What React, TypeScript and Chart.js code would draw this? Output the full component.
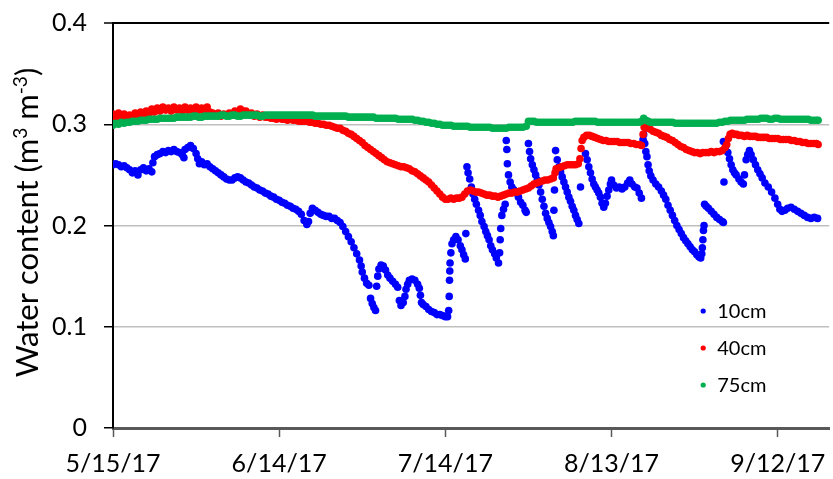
import React, { useEffect, useRef } from "react";
import { Chart, registerables } from "chart.js";

Chart.register(...registerables);

// x = days since 5/15/17, y = volumetric water content (m3 m-3)
const xTickDays = [0, 30, 60, 90, 120];
const xTickLabels = ["5/15/17", "6/14/17", "7/14/17", "8/13/17", "9/12/17"];
const yTickValues = [0, 0.1, 0.2, 0.3, 0.4];
const seriesNames = ["10cm", "40cm", "75cm"];
const seriesColors = ["#0000FF", "#FF0000", "#00B050"];

const series10cm: [number, number][] = [
  [0, 0.26], [0.5, 0.261], [1, 0.26], [1.5, 0.258], [2, 0.259], [2.5, 0.257], [3, 0.255], [3.5, 0.252],
  [4, 0.254], [4.5, 0.25], [5, 0.255], [5.5, 0.257], [6, 0.254], [6.5, 0.256], [7, 0.253], [7.2, 0.262],
  [7.5, 0.268], [8, 0.27], [8.5, 0.271], [9, 0.273], [9.5, 0.272], [10, 0.274], [10.5, 0.273], [11, 0.275],
  [11.5, 0.273], [12, 0.272], [12.5, 0.27], [12.8, 0.267], [13, 0.275], [13.5, 0.277], [14, 0.279], [14.5, 0.276],
  [15, 0.271], [15.3, 0.266], [15.6, 0.261], [16, 0.263], [16.5, 0.26], [17, 0.261], [17.5, 0.258], [18, 0.256],
  [18.5, 0.254], [19, 0.252], [19.5, 0.25], [20, 0.248], [20.5, 0.246], [21, 0.245], [21.5, 0.245], [22, 0.247],
  [22.5, 0.248], [23, 0.247], [23.5, 0.245], [24, 0.243], [24.5, 0.242], [25, 0.24], [25.5, 0.238], [26, 0.237],
  [26.5, 0.235], [27, 0.234], [27.5, 0.232], [28, 0.231], [28.5, 0.229], [29, 0.228], [29.5, 0.226], [30, 0.225],
  [30.5, 0.223], [31, 0.222], [31.5, 0.22], [32, 0.219], [32.5, 0.217], [33, 0.216], [33.5, 0.214], [34, 0.211],
  [34.5, 0.205], [35, 0.201], [35.3, 0.204], [35.6, 0.212], [36, 0.217], [36.5, 0.215], [37, 0.213], [37.5, 0.211],
  [38, 0.21], [38.5, 0.209], [39, 0.209], [39.5, 0.207], [40, 0.207], [40.5, 0.205], [41, 0.203], [41.5, 0.199],
  [42, 0.194], [42.5, 0.189], [43, 0.184], [43.5, 0.178], [44, 0.172], [44.5, 0.166], [44.8, 0.16], [45, 0.154],
  [45.4, 0.148], [45.8, 0.143], [46.2, 0.141], [46.5, 0.128], [46.8, 0.123], [47.1, 0.119], [47.4, 0.116],
  [47.6, 0.14], [47.8, 0.15], [48, 0.157], [48.4, 0.161], [48.8, 0.16], [49.2, 0.156], [49.6, 0.151], [50, 0.148],
  [50.5, 0.145], [51, 0.142], [51.4, 0.139], [51.7, 0.126], [52, 0.121], [52.4, 0.124], [52.7, 0.13], [52.9, 0.137],
  [53.2, 0.142], [53.5, 0.146], [54, 0.147], [54.5, 0.146], [55, 0.142], [55.3, 0.138], [55.5, 0.131], [55.7, 0.124],
  [56, 0.122], [56.5, 0.12], [57, 0.117], [57.5, 0.115], [58, 0.114], [58.5, 0.112], [59, 0.112], [59.5, 0.111],
  [60, 0.11], [60.4, 0.11], [60.6, 0.116], [60.7, 0.13], [60.75, 0.146], [60.8, 0.155], [60.85, 0.163], [61, 0.173],
  [61.2, 0.182], [61.5, 0.186], [61.9, 0.189], [62.3, 0.186], [62.7, 0.18], [63, 0.176], [63.3, 0.171], [63.6, 0.167],
  [63.7, 0.192], [63.9, 0.258], [64.1, 0.252], [64.4, 0.246], [64.7, 0.238], [65, 0.231], [65.3, 0.226], [65.6, 0.221],
  [66, 0.215], [66.3, 0.21], [66.6, 0.204], [67, 0.199], [67.3, 0.194], [67.6, 0.19], [67.9, 0.186], [68.2, 0.18],
  [68.5, 0.176], [68.9, 0.172], [69.2, 0.168], [69.6, 0.163], [69.8, 0.173], [69.9, 0.186], [70, 0.197], [70.2, 0.21],
  [70.5, 0.216], [70.8, 0.221], [71, 0.284], [71.1, 0.275], [71.2, 0.261], [71.4, 0.25], [71.7, 0.243], [72, 0.238],
  [72.4, 0.235], [72.8, 0.232], [73.2, 0.228], [73.6, 0.223], [74, 0.22], [74.4, 0.215], [74.6, 0.213],
  [75, 0.281], [75.2, 0.273], [75.4, 0.266], [75.7, 0.26], [76, 0.255], [76.3, 0.25], [76.6, 0.245], [76.9, 0.24],
  [77.2, 0.233], [77.5, 0.226], [77.8, 0.219], [78.1, 0.212], [78.4, 0.207], [78.7, 0.203], [79, 0.199], [79.3, 0.194],
  [79.5, 0.19], [79.6, 0.215], [79.7, 0.235], [79.9, 0.274], [80.2, 0.265], [80.5, 0.258], [80.8, 0.253], [81.1, 0.248],
  [81.4, 0.243], [81.7, 0.238], [82, 0.233], [82.3, 0.228], [82.6, 0.224], [82.9, 0.219], [83.2, 0.215], [83.5, 0.21],
  [83.8, 0.206], [84.1, 0.202], [84.4, 0.238], [85.3, 0.271], [85.6, 0.265], [85.9, 0.258], [86.2, 0.252], [86.5, 0.246],
  [86.8, 0.241], [87.1, 0.238], [87.4, 0.235], [87.7, 0.232], [88, 0.228], [88.3, 0.222], [88.6, 0.218], [88.9, 0.222],
  [89.2, 0.229], [89.5, 0.235], [89.8, 0.241], [90, 0.245], [90.4, 0.24], [90.9, 0.237], [91.4, 0.238], [91.9, 0.236],
  [92.4, 0.238], [92.9, 0.242], [93.3, 0.245], [93.7, 0.241], [94.2, 0.238], [94.6, 0.237], [95, 0.232], [95.4, 0.227],
  [95.7, 0.285], [95.8, 0.29], [96, 0.281], [96.2, 0.273], [96.4, 0.268], [96.6, 0.26], [96.8, 0.254], [97.1, 0.249],
  [97.5, 0.245], [98, 0.241], [98.5, 0.238], [99, 0.234], [99.4, 0.23], [99.8, 0.226], [100.2, 0.22], [100.6, 0.215],
  [101, 0.21], [101.4, 0.205], [101.8, 0.2], [102.2, 0.196], [102.6, 0.192], [103, 0.188], [103.4, 0.185], [103.8, 0.182],
  [104.2, 0.179], [104.6, 0.176], [105, 0.174], [105.4, 0.171], [105.8, 0.169], [106.1, 0.168], [106.3, 0.172],
  [106.4, 0.178], [106.5, 0.186], [106.6, 0.195], [106.7, 0.2], [106.8, 0.221], [107.1, 0.219], [107.5, 0.217],
  [108, 0.214], [108.5, 0.211], [109, 0.208], [109.5, 0.206], [110, 0.204], [110.2, 0.203], [110.3, 0.243],
  [110.2, 0.283], [110.6, 0.278], [111, 0.272], [111.3, 0.266], [111.6, 0.26], [111.9, 0.255], [112.2, 0.252],
  [112.5, 0.25], [113, 0.246], [113.4, 0.243], [113.8, 0.241], [114, 0.25], [114.3, 0.265], [114.6, 0.27], [114.9, 0.274],
  [115.2, 0.27], [115.6, 0.265], [116, 0.26], [116.4, 0.255], [116.8, 0.251], [117.2, 0.247], [117.7, 0.242],
  [118.3, 0.238], [118.9, 0.233], [119.5, 0.227], [120, 0.221], [120.4, 0.216], [120.8, 0.214], [121.3, 0.215],
  [121.8, 0.217], [122.4, 0.218], [123, 0.216], [123.6, 0.214], [124.2, 0.212], [124.8, 0.21], [125.4, 0.208],
  [126, 0.207], [126.6, 0.208], [127.2, 0.207],
];

const series40cm: [number, number][] = [
  [0, 0.31], [0.5, 0.307], [1, 0.311], [1.5, 0.308], [2, 0.31], [2.5, 0.306], [3, 0.309], [3.5, 0.307], [4, 0.311],
  [4.5, 0.308], [5, 0.312], [5.5, 0.309], [6, 0.313], [6.5, 0.31], [7, 0.315], [7.5, 0.312], [8, 0.316], [8.5, 0.313],
  [9, 0.317], [9.5, 0.314], [10, 0.316], [10.5, 0.313], [11, 0.317], [11.5, 0.314], [12, 0.316], [12.5, 0.313],
  [13, 0.317], [13.5, 0.314], [14, 0.316], [14.5, 0.313], [15, 0.317], [15.5, 0.314], [16, 0.316], [16.5, 0.313],
  [17, 0.317], [17.5, 0.312], [18, 0.311], [18.5, 0.309], [19, 0.311], [19.5, 0.308], [20, 0.31], [20.5, 0.309],
  [21, 0.311], [21.5, 0.309], [22, 0.313], [22.5, 0.312], [23, 0.315], [23.5, 0.313], [24, 0.313], [24.5, 0.31],
  [25, 0.311], [25.5, 0.308], [26, 0.31], [26.5, 0.307], [27, 0.309], [27.5, 0.307], [28, 0.307], [28.5, 0.306],
  [29, 0.306], [29.5, 0.305], [30, 0.306], [30.5, 0.305], [31, 0.305], [31.5, 0.304], [32, 0.305], [32.5, 0.304],
  [33, 0.304], [33.5, 0.303], [34, 0.303], [34.5, 0.303], [35, 0.303], [35.5, 0.302], [36, 0.302], [36.5, 0.301],
  [37, 0.301], [37.5, 0.3], [38, 0.3], [38.5, 0.299], [39, 0.299], [39.5, 0.298], [40, 0.297], [40.5, 0.296],
  [41, 0.296], [41.5, 0.294], [42, 0.293], [42.5, 0.291], [43, 0.29], [43.5, 0.288], [44, 0.286], [44.5, 0.284],
  [45, 0.282], [45.5, 0.279], [46, 0.277], [46.5, 0.275], [47, 0.273], [47.5, 0.271], [48, 0.269], [48.5, 0.267],
  [49, 0.265], [49.5, 0.263], [50, 0.262], [50.5, 0.261], [51, 0.26], [51.5, 0.259], [52, 0.258], [52.5, 0.258],
  [53, 0.257], [53.5, 0.256], [54, 0.254], [54.5, 0.253], [55, 0.251], [55.5, 0.249], [56, 0.247], [56.5, 0.245],
  [57, 0.243], [57.5, 0.24], [58, 0.237], [58.5, 0.234], [59, 0.231], [59.5, 0.228], [60, 0.226], [60.5, 0.226],
  [61, 0.227], [61.5, 0.226], [62, 0.227], [62.5, 0.227], [63, 0.228], [63.5, 0.231], [64, 0.234], [64.5, 0.235],
  [65, 0.234], [65.5, 0.233], [66, 0.233], [66.5, 0.232], [67, 0.231], [67.5, 0.23], [68, 0.23], [68.5, 0.229],
  [69, 0.229], [69.5, 0.228], [70, 0.229], [70.5, 0.23], [71, 0.231], [71.5, 0.232], [72, 0.232], [72.5, 0.233],
  [73, 0.233], [73.5, 0.234], [74, 0.235], [74.5, 0.236], [75, 0.237], [75.5, 0.239], [76, 0.241], [76.5, 0.242],
  [77, 0.243], [77.5, 0.244], [78, 0.245], [78.5, 0.245], [79, 0.246], [79.5, 0.247], [79.8, 0.252], [80, 0.256],
  [80.5, 0.257], [81, 0.258], [81.5, 0.259], [82, 0.26], [82.5, 0.26], [83, 0.26], [83.5, 0.26], [84, 0.261],
  [84.3, 0.266], [84.5, 0.276], [84.7, 0.284], [85, 0.287], [85.5, 0.289], [86, 0.289], [86.5, 0.288], [87, 0.287],
  [87.5, 0.286], [88, 0.285], [88.5, 0.284], [89, 0.284], [89.5, 0.283], [90, 0.283], [90.5, 0.283], [91, 0.283],
  [91.5, 0.282], [92, 0.282], [92.5, 0.282], [93, 0.282], [93.5, 0.281], [94, 0.281], [94.5, 0.28], [95, 0.28],
  [95.4, 0.279], [95.7, 0.29], [95.9, 0.297], [96.5, 0.296], [97, 0.295], [97.5, 0.293], [98, 0.292], [98.5, 0.291],
  [99, 0.289], [99.5, 0.288], [100, 0.287], [100.5, 0.285], [101, 0.284], [101.5, 0.282], [102, 0.28], [102.5, 0.278],
  [103, 0.277], [103.5, 0.275], [104, 0.274], [104.5, 0.273], [105, 0.272], [105.5, 0.272], [106, 0.271],
  [106.5, 0.272], [107, 0.272], [107.5, 0.272], [108, 0.273], [108.5, 0.272], [109, 0.273], [109.5, 0.273],
  [110, 0.274], [110.5, 0.277], [110.8, 0.28], [111.1, 0.286], [111.4, 0.29], [111.8, 0.291], [112.2, 0.29],
  [112.6, 0.29], [113, 0.289], [113.5, 0.289], [114, 0.288], [114.5, 0.289], [115, 0.288], [115.5, 0.288], [116, 0.288],
  [116.5, 0.287], [117, 0.287], [117.5, 0.287], [118, 0.287], [118.5, 0.286], [119, 0.286], [119.5, 0.286], [120, 0.286],
  [120.5, 0.285], [121, 0.285], [121.5, 0.285], [122, 0.285], [122.5, 0.284], [123, 0.284], [123.5, 0.283], [124, 0.283],
  [124.5, 0.282], [125, 0.282], [125.5, 0.281], [126, 0.281], [126.5, 0.281], [127, 0.281], [127.3, 0.28],
];

const series75cm: [number, number][] = [
  [0, 0.299], [0.5, 0.301], [1, 0.3], [1.5, 0.302], [2, 0.301], [2.5, 0.302], [3, 0.302], [3.5, 0.303], [4, 0.303],
  [4.5, 0.303], [5, 0.304], [5.5, 0.304], [6, 0.304], [6.5, 0.305], [7, 0.305], [7.5, 0.305], [8, 0.305], [8.5, 0.306],
  [9, 0.306], [9.5, 0.306], [10, 0.306], [10.5, 0.306], [11, 0.306], [11.5, 0.307], [12, 0.307], [12.5, 0.307],
  [13, 0.307], [13.5, 0.307], [14, 0.307], [14.5, 0.308], [15, 0.308], [15.5, 0.307], [16, 0.307], [16.5, 0.308],
  [17, 0.308], [17.5, 0.308], [18, 0.308], [18.5, 0.308], [19, 0.308], [19.5, 0.309], [20, 0.309], [20.5, 0.308],
  [21, 0.308], [21.5, 0.309], [22, 0.309], [22.5, 0.308], [23, 0.308], [23.5, 0.309], [24, 0.309], [24.5, 0.309],
  [25, 0.309], [25.5, 0.309], [26, 0.309], [26.5, 0.308], [27, 0.308], [27.5, 0.309], [28, 0.309], [28.5, 0.309],
  [29, 0.309], [29.5, 0.309], [30, 0.309], [30.5, 0.309], [31, 0.309], [31.5, 0.309], [32, 0.309], [32.5, 0.309],
  [33, 0.309], [33.5, 0.309], [34, 0.309], [34.5, 0.309], [35, 0.309], [35.5, 0.309], [36, 0.309], [36.5, 0.308],
  [37, 0.308], [37.5, 0.308], [38, 0.308], [38.5, 0.308], [39, 0.308], [39.5, 0.308], [40, 0.308], [40.5, 0.308],
  [41, 0.308], [41.5, 0.308], [42, 0.308], [42.5, 0.307], [43, 0.307], [43.5, 0.307], [44, 0.307], [44.5, 0.307],
  [45, 0.307], [45.5, 0.307], [46, 0.307], [46.5, 0.307], [47, 0.307], [47.5, 0.306], [48, 0.306], [48.5, 0.306],
  [49, 0.306], [49.5, 0.306], [50, 0.306], [50.5, 0.306], [51, 0.306], [51.5, 0.305], [52, 0.305], [52.5, 0.305],
  [53, 0.305], [53.5, 0.305], [54, 0.305], [54.5, 0.304], [55, 0.304], [55.5, 0.303], [56, 0.303], [56.5, 0.302],
  [57, 0.302], [57.5, 0.301], [58, 0.301], [58.5, 0.3], [59, 0.3], [59.5, 0.299], [60, 0.299], [60.5, 0.299],
  [61, 0.299], [61.5, 0.298], [62, 0.298], [62.5, 0.298], [63, 0.298], [63.5, 0.298], [64, 0.298], [64.5, 0.297],
  [65, 0.297], [65.5, 0.297], [66, 0.297], [66.5, 0.297], [67, 0.297], [67.5, 0.297], [68, 0.297], [68.5, 0.296],
  [69, 0.296], [69.5, 0.296], [70, 0.296], [70.5, 0.296], [71, 0.296], [71.5, 0.297], [72, 0.297], [72.5, 0.297],
  [73, 0.297], [73.5, 0.297], [74, 0.297], [74.6, 0.298], [75, 0.303], [75.5, 0.303], [76, 0.303], [76.5, 0.302],
  [77, 0.302], [77.5, 0.302], [78, 0.302], [78.5, 0.302], [79, 0.302], [79.5, 0.302], [80, 0.302], [80.5, 0.302],
  [81, 0.302], [81.5, 0.302], [82, 0.302], [82.5, 0.302], [83, 0.302], [83.5, 0.303], [84, 0.303], [84.5, 0.303],
  [85, 0.303], [85.5, 0.303], [86, 0.303], [86.5, 0.303], [87, 0.303], [87.5, 0.302], [88, 0.302], [88.5, 0.302],
  [89, 0.302], [89.5, 0.302], [90, 0.302], [90.5, 0.302], [91, 0.302], [91.5, 0.302], [92, 0.302], [92.5, 0.302],
  [93, 0.302], [93.5, 0.302], [94, 0.302], [94.5, 0.302], [95, 0.302], [95.4, 0.303], [95.8, 0.306], [96.2, 0.304],
  [96.6, 0.303], [97, 0.302], [97.5, 0.302], [98, 0.302], [98.5, 0.302], [99, 0.302], [99.5, 0.302], [100, 0.302],
  [100.5, 0.302], [101, 0.302], [101.5, 0.301], [102, 0.301], [102.5, 0.301], [103, 0.301], [103.5, 0.301],
  [104, 0.301], [104.5, 0.301], [105, 0.301], [105.5, 0.301], [106, 0.301], [106.5, 0.301], [107, 0.301],
  [107.5, 0.301], [108, 0.301], [108.5, 0.301], [109, 0.301], [109.5, 0.302], [110, 0.302], [110.5, 0.303],
  [111, 0.303], [111.5, 0.304], [112, 0.304], [112.5, 0.304], [113, 0.304], [113.5, 0.304], [114, 0.304],
  [114.5, 0.305], [115, 0.305], [115.5, 0.305], [116, 0.305], [116.5, 0.305], [117, 0.306], [117.5, 0.306],
  [118, 0.306], [118.5, 0.305], [119, 0.305], [119.5, 0.306], [120, 0.306], [120.5, 0.305], [121, 0.305],
  [121.5, 0.305], [122, 0.305], [122.5, 0.305], [123, 0.305], [123.5, 0.305], [124, 0.305], [124.5, 0.305],
  [125, 0.305], [125.5, 0.305], [126, 0.304], [126.5, 0.304], [127, 0.304], [127.3, 0.304],
];

const FONT = 'Lato, "Open Sans", sans-serif';

const yTitlePlugin = {
  id: "yTitle",
  afterDraw(chart: any) {
    const { ctx, chartArea } = chart;
    const size = 31;
    const sup = size * 0.62;
    const rise = -size * 0.36;
    const parts = [
      { t: "Water content (m", s: size, dy: 0 },
      { t: "3", s: sup, dy: rise },
      { t: " m", s: size, dy: 0 },
      { t: "-3", s: sup, dy: rise },
      { t: ")", s: size, dy: 0 },
    ];
    ctx.save();
    ctx.translate(38, (chartArea.top + chartArea.bottom) / 2 - 3);
    ctx.rotate(-Math.PI / 2);
    let total = 0;
    for (const p of parts) {
      ctx.font = `${p.s}px ${FONT}`;
      total += ctx.measureText(p.t).width;
    }
    let x = -total / 2;
    ctx.fillStyle = "#000";
    ctx.textBaseline = "alphabetic";
    ctx.textAlign = "left";
    for (const p of parts) {
      ctx.font = `${p.s}px ${FONT}`;
      ctx.fillText(p.t, x, p.dy);
      x += ctx.measureText(p.t).width;
    }
    ctx.restore();
  },
};

const legendPlugin = {
  id: "insideLegend",
  afterDraw(chart: any) {
    const { ctx, chartArea } = chart;
    const x0 = chartArea.right - 126;
    const y0 = chartArea.top + 288;
    const gap = 37;
    ctx.save();
    ctx.font = `20px ${FONT}`;
    ctx.textBaseline = "middle";
    ctx.textAlign = "left";
    seriesNames.forEach((name, i) => {
      const y = y0 + i * gap;
      ctx.fillStyle = seriesColors[i];
      ctx.beginPath();
      ctx.arc(x0, y, 2.6, 0, Math.PI * 2);
      ctx.fill();
      ctx.fillStyle = "#000";
      ctx.fillText(name, x0 + 14, y + 1);
    });
    ctx.restore();
  },
};

export default function App() {
  const canvasRef = useRef<HTMLCanvasElement | null>(null);

  useEffect(() => {
    if (!canvasRef.current) return;
    const allSeries = [series10cm, series40cm, series75cm];
    const chart = new Chart(canvasRef.current, {
      type: "scatter",
      data: {
        datasets: allSeries.map((s, i) => ({
          label: seriesNames[i],
          data: s.map(([d, v]) => ({ x: d, y: v })),
          backgroundColor: seriesColors[i],
          borderWidth: 0,
          pointRadius: 3.8,
          pointHoverRadius: 3.8,
          order: 3 - i,
        })),
      },
      options: {
        animation: false,
        responsive: false,
        devicePixelRatio: 1,
        layout: { padding: { top: 23, right: 2, left: 0, bottom: 0 } },
        plugins: {
          legend: { display: false },
          tooltip: { enabled: false },
          title: { display: false },
        },
        scales: {
          x: {
            type: "linear",
            min: 0,
            max: 129.3,
            afterBuildTicks: (scale: any) => {
              scale.ticks = xTickDays.map((v) => ({ value: v }));
            },
            afterFit: (scale: any) => {
              scale.height = 51;
              scale.paddingLeft = 0;
              scale.paddingRight = 0;
            },
            ticks: {
              callback: (v: any) => {
                const idx = xTickDays.indexOf(Number(v));
                return idx >= 0 ? xTickLabels[idx] : "";
              },
              font: { family: FONT, size: 25 },
              color: "#000",
              padding: 12,
              maxRotation: 0,
              autoSkip: false,
            },
            grid: {
              drawOnChartArea: false,
              drawTicks: true,
              tickLength: 9,
              tickColor: "#595959",
              tickWidth: 1.5,
            },
            border: { display: true, color: "#595959", width: 3 },
          },
          y: {
            type: "linear",
            min: 0,
            max: 0.4,
            afterBuildTicks: (scale: any) => {
              scale.ticks = yTickValues.map((v) => ({ value: v }));
            },
            afterFit: (scale: any) => {
              scale.width = 113;
              scale.paddingTop = 0;
              scale.paddingBottom = 0;
            },
            ticks: {
              callback: (v: any) => (Number(v) === 0 ? "0" : Number(v).toFixed(1)),
              font: { family: FONT, size: 25 },
              color: "#000",
              padding: 17,
            },
            grid: {
              color: (c: any) => (c.tick && c.tick.value === 0.4 ? "#000000" : "#BFBFBF"),
              lineWidth: (c: any) => (c.tick && c.tick.value === 0.4 ? 2 : 1.5),
              drawTicks: true,
              tickLength: 9,
              tickColor: "#000",
              tickWidth: 1.5,
            },
            border: { display: true, color: "#000", width: 2 },
          },
        },
      },
      plugins: [yTitlePlugin, legendPlugin],
    });
    return () => chart.destroy();
  }, []);

  return (
    <div style={{ position: "fixed", left: 0, top: 0, width: 833, height: 479, background: "#fff" }}>
      <canvas ref={canvasRef} width={833} height={479} style={{ display: "block" }} />
    </div>
  );
}
